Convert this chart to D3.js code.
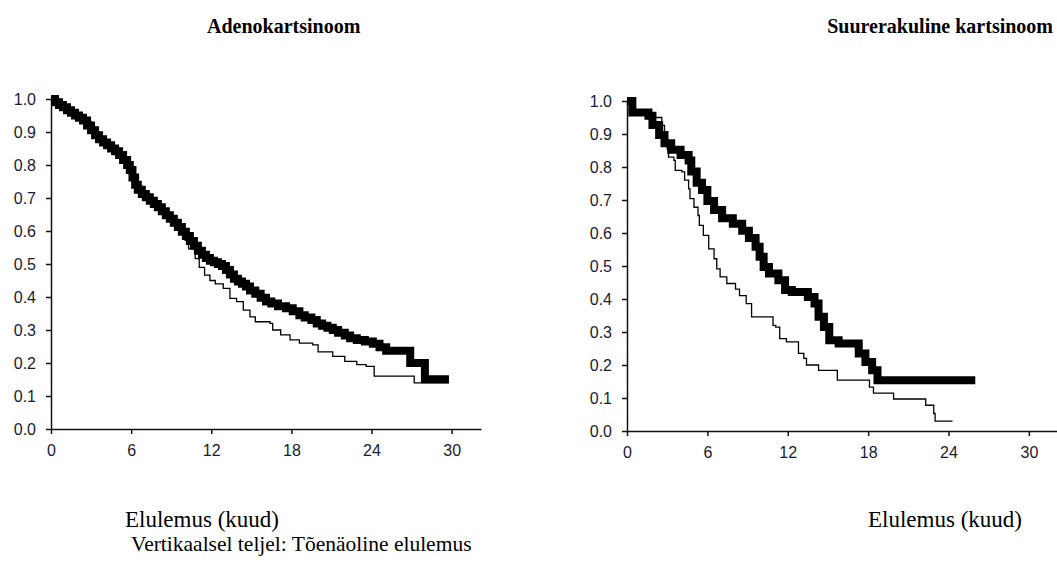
<!DOCTYPE html>
<html>
<head>
<meta charset="utf-8">
<script src="https://cdn.jsdelivr.net/npm/d3@7/dist/d3.min.js"></script>
<style>
  html, body { margin: 0; padding: 0; background: #fff; }
  svg { display: block; }
  .tick text { font-family: "Liberation Sans", Arial, sans-serif; font-size: 16px; fill: #1a1a33; }
  .ttl { font-family: "Liberation Serif", "Times New Roman", serif; font-size: 20px; font-weight: bold; fill: #000; }
  .cap { font-family: "Liberation Serif", "Times New Roman", serif; font-size: 21.5px; fill: #000; }
  .cap2 { font-family: "Liberation Serif", "Times New Roman", serif; font-size: 23px; fill: #000; }
</style>
</head>
<body>
<svg id="chart" width="1057" height="564"></svg>
<script>
// ---- data ----
const panelTitles = ["Adenokartsinoom", "Suurerakuline kartsinoom"];
const xAxisLabel = "Elulemus (kuud)";
const footNote = "Vertikaalsel teljel: Tõenäoline elulemus";
const xTicks = [0, 6, 12, 18, 24, 30];
const yTicks = [0, 0.1, 0.2, 0.3, 0.4, 0.5, 0.6, 0.7, 0.8, 0.9, 1.0];

// Adenokartsinoom – thick curve
const adenoThickTime = [0,0.3,0.6,0.9,1.2,1.5,1.8,2.1,2.4,2.7,3.0,3.3,3.6,3.9,4.2,4.5,4.8,5.1,5.4,5.7,5.9,6.1,6.3,6.5,6.8,7.1,7.4,7.7,8.0,8.3,8.6,8.9,9.2,9.5,9.8,10.1,10.4,10.7,11.0,11.3,11.6,11.9,12.2,12.5,12.8,13.1,13.4,13.7,14.0,14.3,14.6,14.9,15.3,15.7,16.1,16.5,17.0,17.6,18.1,18.6,19.0,19.5,19.9,20.3,20.7,21.1,21.5,22.0,22.4,22.9,23.5,24.1,24.6,25.1,26.9,28.0,29.8];
const adenoThickSurv = [1.0,0.99,0.982,0.975,0.966,0.958,0.95,0.943,0.935,0.92,0.905,0.89,0.878,0.868,0.86,0.85,0.842,0.83,0.815,0.8,0.785,0.762,0.74,0.725,0.712,0.702,0.692,0.682,0.672,0.66,0.648,0.637,0.625,0.612,0.598,0.585,0.57,0.555,0.54,0.528,0.518,0.51,0.505,0.5,0.494,0.482,0.468,0.455,0.447,0.44,0.432,0.42,0.41,0.398,0.386,0.38,0.372,0.366,0.357,0.345,0.338,0.33,0.32,0.313,0.307,0.30,0.292,0.283,0.275,0.27,0.265,0.258,0.248,0.237,0.20,0.151,0.151];
// Adenokartsinoom – thin curve
const adenoThinTime = [0,0.6,1.2,1.8,2.4,3.0,3.6,4.2,4.8,5.4,5.9,6.3,6.8,7.4,8.0,8.6,9.2,9.8,10.05,10.3,10.8,11.1,11.5,11.9,12.3,12.9,13.4,13.9,14.4,14.9,15.3,16.4,16.6,17.2,17.9,18.6,19.6,20.0,21.1,22.0,22.9,23.6,24.2,27.2,29.8];
const adenoThinSurv = [1.0,0.98,0.964,0.948,0.932,0.9,0.873,0.855,0.832,0.808,0.78,0.736,0.708,0.688,0.668,0.644,0.62,0.594,0.572,0.546,0.516,0.49,0.466,0.45,0.44,0.426,0.396,0.386,0.36,0.34,0.325,0.32,0.30,0.285,0.27,0.26,0.255,0.234,0.22,0.205,0.195,0.19,0.16,0.14,0.14];

// Suurerakuline kartsinoom – thick curve
const largeThickTime = [0,0.4,1.6,1.9,2.4,2.8,3.3,4.0,4.6,4.8,5.2,5.6,6.0,6.5,7.1,7.9,8.6,9.1,9.6,9.9,10.2,10.6,11.3,11.8,12.3,13.5,14.0,14.3,14.7,15.1,15.8,17.3,17.8,18.3,18.7,26.0];
const largeThickSurv = [1.0,0.965,0.955,0.927,0.897,0.872,0.852,0.836,0.82,0.786,0.752,0.73,0.697,0.67,0.645,0.628,0.607,0.585,0.558,0.528,0.497,0.477,0.457,0.427,0.421,0.406,0.386,0.346,0.315,0.275,0.265,0.235,0.209,0.184,0.154,0.154];
// Suurerakuline kartsinoom – thin curve
const largeThinTime = [0,0.5,1.5,1.8,2.6,2.8,3.0,3.1,3.5,3.6,4.1,4.3,4.6,4.7,5.0,5.3,5.4,5.7,6.1,6.5,6.7,6.95,7.45,8.1,8.4,8.9,9.3,10.9,11.1,11.4,11.9,12.8,13.2,13.4,14.3,15.7,18.1,18.4,19.9,22.3,22.9,23.0,24.3];
const largeThinSurv = [1.0,0.967,0.957,0.95,0.926,0.87,0.855,0.83,0.82,0.79,0.785,0.76,0.734,0.704,0.678,0.653,0.623,0.593,0.552,0.522,0.491,0.467,0.447,0.43,0.41,0.386,0.346,0.32,0.315,0.28,0.27,0.235,0.22,0.2,0.184,0.154,0.133,0.115,0.097,0.078,0.053,0.03,0.03];

// ---- drawing ----
const svg = d3.select("#chart");

function zip(t, s) { return t.map((v, i) => ({ t: v, s: s[i] })); }

const panels = [
  { title: panelTitles[0], xDom: [0, 32.2], xRange: [51, 481], yRange: [429, 99],
    thin: zip(adenoThinTime, adenoThinSurv), thick: zip(adenoThickTime, adenoThickSurv),
    titleX: 207, titleAnchor: "start", capX: 125 },
  { title: panelTitles[1], xDom: [0, 32.1], xRange: [627, 1057], yRange: [431, 101],
    thin: zip(largeThinTime, largeThinSurv), thick: zip(largeThickTime, largeThickSurv),
    titleX: 1053, titleAnchor: "end", capX: 868 }
];

panels.forEach(p => {
  const x = d3.scaleLinear().domain(p.xDom).range(p.xRange);
  const y = d3.scaleLinear().domain([0, 1]).range(p.yRange);
  const g = svg.append("g");

  g.append("g")
    .attr("transform", `translate(${p.xRange[0]},0)`)
    .call(d3.axisLeft(y).tickValues(yTicks).tickFormat(d3.format(".1f")).tickSize(5).tickSizeOuter(0).tickPadding(10))
    .call(a => a.selectAll("line, path").attr("stroke", "#111").attr("stroke-width", 1.5));

  g.append("g")
    .attr("transform", `translate(0,${p.yRange[0]})`)
    .call(d3.axisBottom(x).tickValues(xTicks).tickSize(5).tickSizeOuter(0).tickPadding(11))
    .call(a => a.selectAll("line, path").attr("stroke", "#111").attr("stroke-width", 1.5));

  const line = d3.line().x(d => x(d.t)).y(d => y(d.s)).curve(d3.curveStepAfter);

  g.append("path").datum(p.thin).attr("d", line)
    .attr("fill", "none").attr("stroke", "#000").attr("stroke-width", 1.3);
  g.append("path").datum(p.thick).attr("d", line)
    .attr("fill", "none").attr("stroke", "#000").attr("stroke-width", 8)
    .attr("stroke-linejoin", "miter");

  svg.append("text").attr("class", "ttl").attr("x", p.titleX).attr("y", 33)
    .attr("text-anchor", p.titleAnchor).text(p.title);
  svg.append("text").attr("class", "cap2").attr("x", p.capX).attr("y", 527).text(xAxisLabel);
});

svg.append("text").attr("class", "cap").attr("x", 131).attr("y", 551).text(footNote);
</script>
</body>
</html>
